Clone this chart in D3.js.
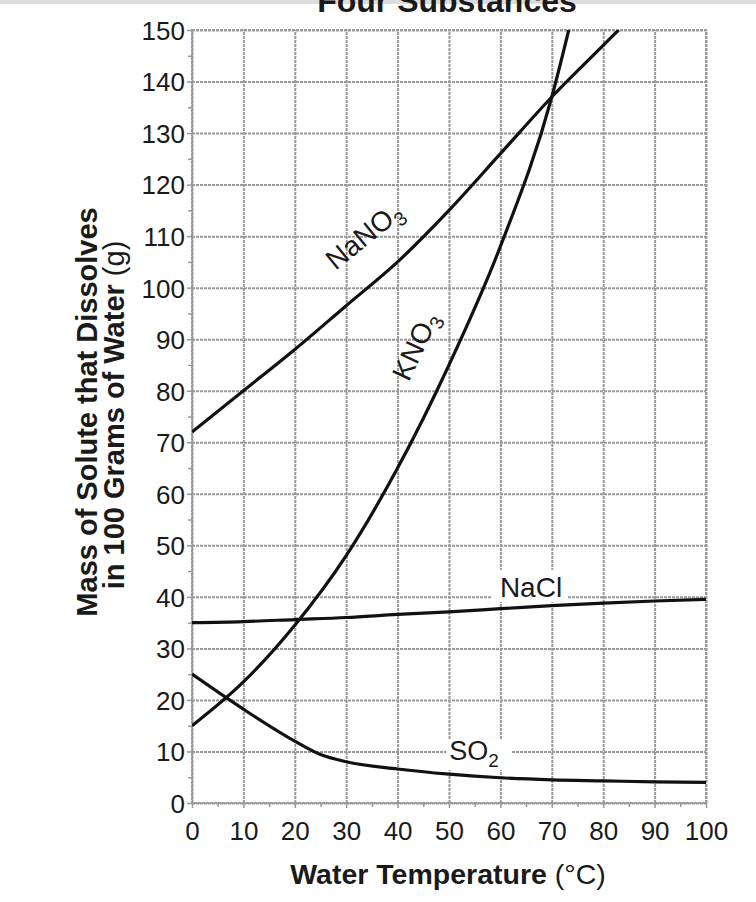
<!DOCTYPE html>
<html>
<head>
<meta charset="utf-8">
<script src="https://cdn.jsdelivr.net/npm/d3@7"></script>
<style>
  html, body { margin: 0; padding: 0; background: #fff; }
  svg { display: block; }
  text { font-family: "Liberation Sans", Arial, Helvetica, sans-serif; fill: #1a1a1a; }
</style>
</head>
<body>
<svg id="chart" width="756" height="902"></svg>
<script>
// ---- data ----
const temps = [0, 10, 20, 30, 40, 50, 60, 70, 80, 90, 100];
const kno3 = [[0, 15], [10, 23.5], [20, 34.5], [30, 48], [40, 65], [50, 85], [60, 108], [70, 137], [73.3, 150]];
const nano3 = [[0, 72], [10, 80], [20, 88], [30, 96.5], [40, 105], [50, 115], [60, 126], [70, 137], [80, 147], [83, 150]];
const nacl = [[0, 35], [10, 35.2], [20, 35.6], [30, 36], [40, 36.6], [50, 37.1], [60, 37.7], [70, 38.3], [80, 38.8], [90, 39.2], [100, 39.5]];
const so2 = [[0, 25], [10, 18.2], [20, 12], [25, 9.4], [30, 8], [40, 6.6], [50, 5.6], [60, 4.9], [70, 4.5], [80, 4.3], [90, 4.1], [100, 4.0]];
const yTicks = [0, 10, 20, 30, 40, 50, 60, 70, 80, 90, 100, 110, 120, 130, 140, 150];
const xTicks = temps;
const xMinor = [5, 15, 25, 35, 45, 55, 65, 75, 85, 95];
const yMinor = [5, 15, 25, 35, 45, 55, 65, 75, 85, 95, 105, 115, 125, 135, 145];
const titleText = "Four Substances";
const xTitle = ["Water Temperature", " (°C)"];
const yTitle1 = "Mass of Solute that Dissolves";
const yTitle2 = ["in 100 Grams of Water", " (g)"];

// ---- layout ----
const L = 192, R = 706, T = 30, B = 803;
const x = d3.scaleLinear().domain([0, 100]).range([L, R]);
const y = d3.scaleLinear().domain([0, 150]).range([B, T]);
const svg = d3.select("#chart");
const gridColor = "#999999";

// top strip
svg.append("rect").attr("x", 0).attr("y", 0).attr("width", 756).attr("height", 4).attr("fill", "#dcdcdc");

// title (partially cut off at top, as in the source image)
svg.append("text").attr("x", 447).attr("y", 12).attr("text-anchor", "middle")
  .attr("font-size", 32).attr("font-weight", "bold").text(titleText);

// gridlines
const gx = svg.append("g").attr("transform", `translate(0,${B})`)
  .call(d3.axisBottom(x).tickValues(xTicks).tickSize(-(B - T)).tickFormat(""));
const gy = svg.append("g").attr("transform", `translate(${L},0)`)
  .call(d3.axisLeft(y).tickValues(yTicks).tickSize(-(R - L)).tickFormat(""));
[gx, gy].forEach(g => {
  g.select(".domain").remove();
  g.selectAll("line").attr("stroke", gridColor).attr("stroke-width", 2).attr("stroke-dasharray", "3,1");
});
// border box
svg.append("rect").attr("x", L).attr("y", T).attr("width", R - L).attr("height", B - T)
  .attr("fill", "none").attr("stroke", gridColor).attr("stroke-width", 2).attr("stroke-dasharray", "3,1");

// axes ticks + labels
const ax = svg.append("g").attr("transform", `translate(0,${B})`)
  .call(d3.axisBottom(x).tickValues(xTicks).tickSize(5).tickPadding(14));
const ay = svg.append("g").attr("transform", `translate(${L},0)`)
  .call(d3.axisLeft(y).tickValues(yTicks).tickSize(5).tickPadding(2));
const axm = svg.append("g").attr("transform", `translate(0,${B})`)
  .call(d3.axisBottom(x).tickValues(xMinor).tickSize(4).tickFormat(""));
const aym = svg.append("g").attr("transform", `translate(${L},0)`)
  .call(d3.axisLeft(y).tickValues(yMinor).tickSize(4).tickFormat(""));
[ax, ay, axm, aym].forEach(g => {
  g.select(".domain").remove();
  g.selectAll("line").attr("stroke", gridColor).attr("stroke-width", 1.5);
  g.selectAll("text").attr("font-size", 26).attr("fill", "#1a1a1a")
    .attr("font-family", "'Liberation Sans', Arial, sans-serif");
});
ay.selectAll("text").attr("dy", "0.36em");

// clip
svg.append("clipPath").attr("id", "clip").append("rect")
  .attr("x", L).attr("y", T).attr("width", R - L).attr("height", B - T);

const line = d3.line().x(d => x(d[0])).y(d => y(d[1])).curve(d3.curveMonotoneX);
const curves = svg.append("g").attr("clip-path", "url(#clip)");

// label backgrounds (gaps in gridlines)
svg.append("rect").attr("x", 492).attr("y", 570).attr("width", 76).attr("height", 32).attr("fill", "#fff");
svg.append("rect").attr("x", 446).attr("y", 740).attr("width", 66).attr("height", 30).attr("fill", "#fff");

[kno3, nano3, nacl, so2].forEach(s => {
  curves.append("path").datum(s).attr("d", line)
    .attr("fill", "none").attr("stroke", "#111").attr("stroke-width", 3.2);
});

// inline labels
function chemLabel(px, py, angle, main, sub, size) {
  const t = svg.append("text").attr("transform", `translate(${px},${py}) rotate(${angle})`)
    .attr("text-anchor", "middle").attr("font-size", size);
  t.append("tspan").text(main);
  if (sub) t.append("tspan").attr("font-size", size * 0.7).attr("dy", size * 0.25).text(sub);
}
chemLabel(370, 243, -39, "NaNO", "3", 28);
chemLabel(424, 350, -65, "KNO", "3", 28);
chemLabel(531, 597, 0, "NaCl", "", 28);
chemLabel(474, 760, 0, "SO", "2", 27);

// axis titles
const xt = svg.append("text").attr("x", 448).attr("y", 884).attr("text-anchor", "middle").attr("font-size", 28.5);
xt.append("tspan").attr("font-weight", "bold").text(xTitle[0]);
xt.append("tspan").text(xTitle[1]);

svg.append("text").attr("transform", "translate(97,412) rotate(-90)").attr("text-anchor", "middle")
  .attr("font-size", 29).attr("font-weight", "bold").text(yTitle1);
const yt2 = svg.append("text").attr("transform", "translate(124,415) rotate(-90)").attr("text-anchor", "middle")
  .attr("font-size", 29);
yt2.append("tspan").attr("font-weight", "bold").text(yTitle2[0]);
yt2.append("tspan").text(yTitle2[1]);
</script>
</body>
</html>
